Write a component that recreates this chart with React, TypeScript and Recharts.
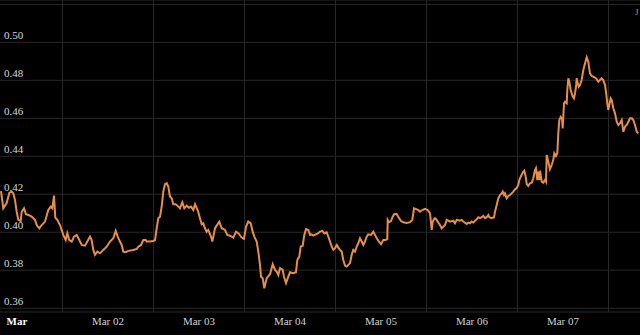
import { LineChart, Line, XAxis, YAxis, CartesianGrid, ReferenceLine } from "recharts";

// hours since Mar 01 00:00
const hours = [
  -4.22, -3.61, -2.72, -2.03, -1.4, -0.98, -0.53, -0.08, 0.34, 0.98, 1.24, 1.85, 2.37, 2.98, 3.88, 4.75,
  5.2, 5.88, 6.51, 7.38, 8.26, 8.89, 9.31, 9.76, 10.1, 10.63, 11.34, 12.21, 12.84, 13.27, 13.79, 14.43,
  15.03, 15.75, 16.43, 17.06, 17.93, 18.54, 19.25, 19.7, 20.12, 20.57, 21.18, 21.89, 22.76, 23.66, 24.53,
  25.4, 26.03, 26.56, 27.16, 27.61, 28.04, 28.67, 29.35, 30.67, 31.57, 31.99, 32.7, 33.31, 33.94, 34.21,
  35.08, 35.95, 36.4, 36.84, 37.27, 37.71, 38.16, 38.58, 39.03, 39.48, 39.9, 40.35, 40.8, 41.22, 41.86,
  42.54, 42.99, 43.6, 44.12, 44.76, 45.36, 45.89, 46.5, 46.95, 47.66, 48.26, 48.71, 49.13, 49.58, 50.03,
  50.45, 51.16, 51.51, 51.88, 52.22, 53.36, 53.99, 54.86, 55.46, 56.18, 57.05, 57.76, 58.37, 59.26, 59.87,
  60.4, 61.0, 61.64, 62.16, 62.59, 63.22, 63.64, 64.09, 64.35, 64.8, 65.22, 65.86, 66.73, 67.44, 68.05,
  68.49, 68.92, 69.36, 70.08, 70.42, 70.95, 71.55, 72.0, 72.87, 73.58, 73.93, 74.45, 74.82, 75.35, 75.77,
  76.22, 76.83, 77.28, 77.72, 78.15, 78.86, 79.46, 79.91, 80.52, 81.05, 81.68, 82.1, 82.55, 83.0, 83.42,
  83.87, 84.32, 84.74, 85.19, 85.64, 86.06, 86.51, 86.95, 87.38, 87.83, 88.27, 88.7, 89.14, 89.59, 90.01,
  90.46, 90.91, 91.33, 91.78, 92.23, 92.65, 93.36, 93.97, 94.42, 94.87, 95.47, 96.0, 96.61, 97.24, 97.66,
  97.77, 98.11, 98.64, 99.09, 99.51, 100.14, 100.56, 101.28, 101.88, 102.78, 103.65, 104.26, 104.7, 105.15,
  105.84, 106.29, 106.89, 107.61, 108.32, 108.93, 109.38, 109.64, 110.06, 110.25, 110.69, 111.11, 111.56,
  112.01, 112.43, 112.88, 113.33, 113.75, 114.2, 115.07, 115.52, 115.97, 116.84, 117.29, 117.71, 118.6,
  119.03, 119.47, 119.92, 120.34, 120.79, 121.24, 121.66, 122.11, 122.56, 122.98, 123.43, 123.88, 124.3,
  124.57, 125.2, 125.81, 126.07, 126.52, 126.94, 127.39, 127.84, 128.1, 128.44, 128.7, 129.15, 129.57,
  130.02, 130.47, 130.89, 131.34, 131.79, 132.21, 132.48, 132.85, 133.37, 133.8, 134.16, 134.43, 134.85,
  135.3, 135.75, 136.17, 136.62, 136.88, 137.23, 137.49, 137.75, 137.94, 138.38, 138.81, 139.26, 139.52,
  139.7, 140.12, 140.56, 141.02, 141.44, 141.71, 142.16, 142.5, 142.76, 143.03, 143.4, 143.74, 143.92,
  144.27, 144.53, 144.98, 145.14, 145.4, 145.67, 146.03, 146.56, 146.9, 147.17, 147.43, 147.62, 147.88,
  148.14, 148.49, 148.93, 149.36, 149.8, 150.25, 150.67, 151.12, 151.57, 151.99, 152.7, 153.31, 153.76,
  154.21, 154.63, 155.08, 155.34, 155.68, 155.95, 156.21, 156.58, 156.85, 157.27, 157.72, 158.17, 158.59,
  159.04, 159.49, 159.91, 160.36, 160.81, 161.23, 161.68, 162.13, 162.55, 163.0, 163.45, 163.87,
];

const prices = [
  0.4217, 0.4126, 0.4154, 0.4207, 0.4214, 0.4205, 0.417, 0.4108, 0.4065, 0.4059, 0.4108, 0.4126, 0.4095, 0.4091, 0.4082, 0.4065,
  0.4038, 0.4021, 0.4038, 0.4056, 0.4117, 0.4135, 0.4126, 0.4193, 0.4077, 0.4065, 0.4038, 0.3986, 0.3959, 0.3995, 0.3959, 0.3951,
  0.3977, 0.3986, 0.3959, 0.3933, 0.3929, 0.3951, 0.3977, 0.3959, 0.3907, 0.3881, 0.3898, 0.3889, 0.3907, 0.3924, 0.3951,
  0.3968, 0.4007, 0.3977, 0.3951, 0.3933, 0.3898, 0.3895, 0.3902, 0.3907, 0.3912, 0.3924, 0.3933, 0.3959, 0.3959, 0.3951,
  0.3951, 0.3954, 0.3959, 0.4021, 0.4074, 0.4082, 0.4135, 0.4214, 0.4253, 0.4258, 0.424, 0.4187, 0.4179, 0.4147, 0.4147,
  0.4135, 0.4126, 0.4158, 0.4126, 0.414, 0.4129, 0.4135, 0.4117, 0.4147, 0.4117, 0.4074, 0.4042, 0.4047, 0.4021, 0.4003,
  0.4012, 0.3977, 0.3951, 0.3986, 0.4021, 0.4056, 0.4021, 0.4012, 0.3986, 0.3982, 0.3972, 0.4003, 0.3995, 0.3972, 0.3965,
  0.4029, 0.4056, 0.4047, 0.4003, 0.3977, 0.3951, 0.3898, 0.3828, 0.3766, 0.3758, 0.3705, 0.3758, 0.3779, 0.3832, 0.3802,
  0.3793, 0.3775, 0.3811, 0.3802, 0.3766, 0.3732, 0.3766, 0.3789, 0.3784, 0.3789, 0.3854, 0.3872, 0.3924, 0.3929, 0.3986,
  0.4017, 0.4012, 0.3986, 0.3989, 0.3982, 0.3989, 0.3995, 0.4003, 0.4007, 0.3995, 0.4, 0.3977, 0.3951, 0.3924, 0.3907,
  0.3916, 0.3933, 0.3919, 0.3907, 0.3898, 0.3854, 0.3824, 0.3819, 0.3828, 0.3837, 0.3881, 0.3907, 0.3898, 0.3924, 0.3942,
  0.3968, 0.3951, 0.3933, 0.3951, 0.3977, 0.3989, 0.3986, 0.4003, 0.3986, 0.3968, 0.3951, 0.3937, 0.3959, 0.3959, 0.3965,
  0.4065, 0.4053, 0.4059, 0.4082, 0.4096, 0.4096, 0.4082, 0.4059, 0.4053, 0.4049, 0.4053, 0.4065, 0.4126, 0.4123,
  0.4117, 0.4108, 0.4117, 0.4123, 0.4117, 0.41, 0.4012, 0.4056, 0.407, 0.4074, 0.4065, 0.4051, 0.4038,
  0.4021, 0.4029, 0.4038, 0.4065, 0.4061, 0.4056, 0.4061, 0.4047, 0.4065, 0.4061, 0.4065, 0.4056, 0.4044,
  0.4051, 0.4047, 0.4056, 0.4051, 0.4061, 0.4068, 0.4079, 0.4074, 0.4079, 0.4086, 0.4074, 0.4079, 0.4091,
  0.4079, 0.4074, 0.4079, 0.4108, 0.4144, 0.4179, 0.4196, 0.4205, 0.4214, 0.4196, 0.4205, 0.4179, 0.4191,
  0.4196, 0.4205, 0.4214, 0.4226, 0.4232, 0.4249, 0.4275, 0.4293, 0.4314, 0.4324, 0.4293, 0.4254, 0.4244,
  0.4258, 0.4261, 0.4284, 0.4328, 0.4337, 0.4275, 0.4319, 0.4275, 0.4324, 0.4266, 0.4261, 0.4275, 0.4266,
  0.4407, 0.4372, 0.4332, 0.4354, 0.4381, 0.4416, 0.4402, 0.4416, 0.4521, 0.4591, 0.4608, 0.46, 0.4547,
  0.4679, 0.4687, 0.4679, 0.4749, 0.4811, 0.4793, 0.4749, 0.4714, 0.4705, 0.4732, 0.4766, 0.4811, 0.4784,
  0.4766, 0.4775, 0.4802, 0.4854, 0.4889, 0.4921, 0.4898, 0.4837, 0.4823, 0.4819, 0.4811, 0.4793, 0.4802,
  0.4811, 0.4802, 0.4775, 0.474, 0.4679, 0.4644, 0.467, 0.4705, 0.4696, 0.4653, 0.4626, 0.4582, 0.4565,
  0.4574, 0.4591, 0.4529, 0.4556, 0.4565, 0.4582, 0.46, 0.46, 0.4591, 0.4565, 0.4529, 0.4521,
];

const dayTicks = [0, 24, 48, 72, 96, 120, 144];
const dayLabels = ["Mar", "Mar 02", "Mar 03", "Mar 04", "Mar 05", "Mar 06", "Mar 07"];
const gridHours = [12, 36, 60, 84, 108, 132, 156];
const priceTicks = [0.36, 0.38, 0.4, 0.42, 0.44, 0.46, 0.48, 0.5, 0.52];

const data = hours.map((h, i) => ({ h, price: prices[i] }));

const FONT = '"Liberation Serif", "Times New Roman", serif';

const DayTick = ({ x, y, payload }: any) => {
  const idx = dayTicks.indexOf(payload.value);
  const first = idx === 0;
  return (
    <text
      x={x}
      y={y + 5}
      textAnchor="middle"
      fontFamily={FONT}
      fontSize={11}
      fontWeight={first ? 700 : 400}
      fill={first ? "#ffffff" : "#d0d0d0"}
    >
      {dayLabels[idx]}
    </text>
  );
};

const PriceTick = ({ y, payload }: any) => {
  if (payload.value > 0.51) return null;
  return (
    <text x={4} y={y - 3} fontFamily={FONT} fontSize={11} fill="#d8d8d8">
      {payload.value.toFixed(2)}
    </text>
  );
};

export default function App() {
  return (
    <div style={{ position: "absolute", left: 0, top: 0, width: 640, height: 335, background: "#000" }}>
      <LineChart width={640} height={335} data={data} margin={{ top: 0, right: 0, bottom: 0, left: 0 }}>
        <CartesianGrid stroke="#282828" vertical={false} />
        {gridHours.map((h) => (
          <ReferenceLine key={h} x={h} stroke="#282828" />
        ))}
        <XAxis
          dataKey="h"
          type="number"
          domain={[-4.484, 164.31]}
          ticks={dayTicks}
          axisLine={false}
          tickLine={false}
          height={23}
          tick={<DayTick />}
          interval={0}
          allowDataOverflow
        />
        <YAxis
          type="number"
          domain={[0.358, 0.5223]}
          ticks={priceTicks}
          axisLine={false}
          tickLine={false}
          mirror
          width={40}
          tick={<PriceTick />}
          interval={0}
          allowDataOverflow
        />
        <Line
          type="linear"
          dataKey="price"
          stroke="#e68f48"
          strokeWidth={2}
          dot={false}
          activeDot={false}
          isAnimationActive={false}
        />
      </LineChart>
      <span
        style={{
          position: "absolute",
          left: 635,
          top: 7,
          fontFamily: FONT,
          fontSize: 9,
          color: "#9a9a9a",
        }}
      >
        J
      </span>
    </div>
  );
}
